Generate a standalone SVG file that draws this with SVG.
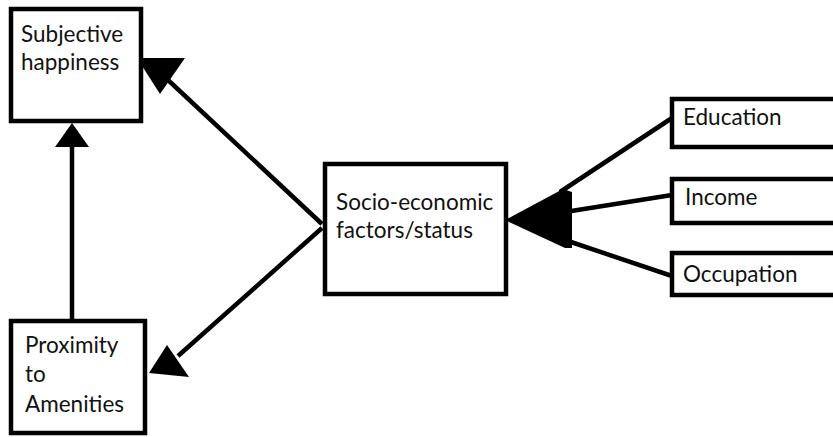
<svg xmlns="http://www.w3.org/2000/svg" width="833" height="437" viewBox="0 0 833 437">
<style>
.box{fill:#fff;stroke:#000;stroke-width:4.5}
.ln{stroke:#000;stroke-width:4.5;fill:none}
.hd{fill:#000;stroke:none}
text{font-family:"Lato","Open Sans","Liberation Sans",sans-serif;font-size:22.5px;fill:#111}
</style>
<rect width="833" height="437" fill="#fff"/>
<g id="connectors">
<line class="ln" x1="322" y1="224" x2="168" y2="80"/>
<polygon class="hd" points="137,58 185,58 160,94"/>
<line class="ln" x1="72" y1="320" x2="72" y2="140"/>
<polygon class="hd" points="72,123 55,147 89,147"/>
<line class="ln" x1="322" y1="228" x2="178" y2="356"/>
<polygon class="hd" points="149,373 167,345 189,377"/>
<line class="ln" x1="672" y1="118" x2="560" y2="192"/>
<line class="ln" x1="672" y1="195" x2="565" y2="212"/>
<line class="ln" x1="672" y1="276" x2="565" y2="240"/>
<polygon class="hd" points="505,220 563,189 572,192 572,248 565,248"/>
</g>
<g id="subjective">
<rect class="box" x="11" y="9" width="130" height="112"/>
<text x="21" y="42">Subjective</text>
<text x="21" y="70">happiness</text>
</g>
<g id="proximity">
<rect class="box" x="11" y="321" width="134" height="112"/>
<text x="25" y="353">Proximity</text>
<text x="25" y="382">to</text>
<text x="25" y="412">Amenities</text>
</g>
<g id="ses">
<rect class="box" x="325" y="164" width="181" height="130"/>
<text x="336" y="210">Socio-economic</text>
<text x="336" y="238">factors/status</text>
</g>
<g id="education">
<rect class="box" x="672" y="99" width="170" height="48"/>
<text x="683" y="125">Education</text>
</g>
<g id="income">
<rect class="box" x="672" y="179" width="170" height="44"/>
<text x="685" y="205">Income</text>
</g>
<g id="occupation">
<rect class="box" x="672" y="253" width="170" height="42"/>
<text x="683" y="282">Occupation</text>
</g>
</svg>
